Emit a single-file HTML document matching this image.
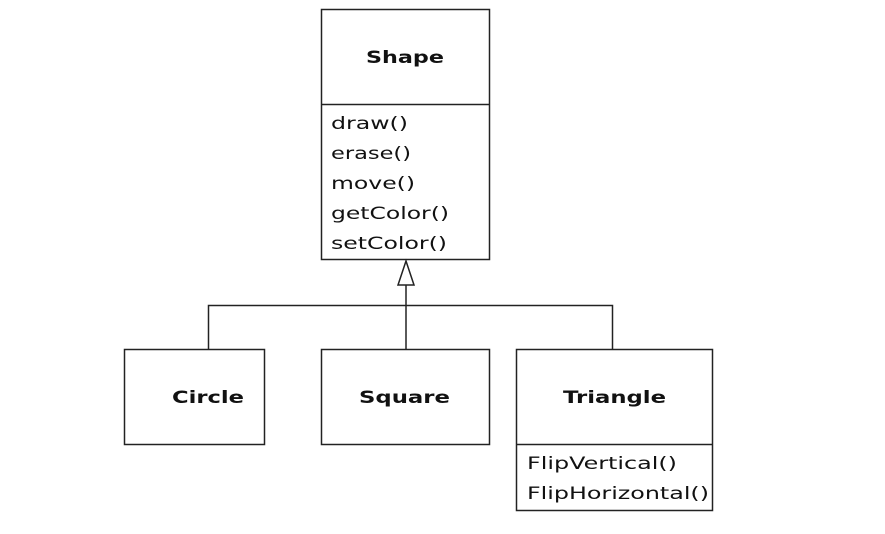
<!DOCTYPE html>
<html><head><style>html,body{margin:0;padding:0;background:#fff;}svg{display:block}</style></head>
<body>
<svg width="885" height="534" xmlns="http://www.w3.org/2000/svg" font-family="'DejaVu Sans','Liberation Sans',sans-serif">
<g fill="none" stroke="#222" stroke-width="1.5">
<rect x="321.5" y="9.5" width="168" height="250"/>
<line x1="321" y1="104.5" x2="490" y2="104.5"/>
<rect x="124.5" y="349.5" width="140" height="95"/>
<rect x="321.5" y="349.5" width="168" height="95"/>
<rect x="516.5" y="349.5" width="196" height="161"/>
<line x1="516" y1="444.5" x2="712" y2="444.5"/>
<polyline points="208.5,349 208.5,305.5 612.5,305.5 612.5,349"/>
<line x1="406" y1="285" x2="406" y2="349"/>
<polygon points="406,261 398,285 414,285" fill="#fff"/>
</g>
<g fill="#111" font-size="17">
<text x="331" y="129" textLength="77" lengthAdjust="spacingAndGlyphs">draw()</text>
<text x="331" y="159" textLength="80" lengthAdjust="spacingAndGlyphs">erase()</text>
<text x="331" y="189" textLength="84" lengthAdjust="spacingAndGlyphs">move()</text>
<text x="331" y="219" textLength="118" lengthAdjust="spacingAndGlyphs">getColor()</text>
<text x="331" y="249" textLength="116" lengthAdjust="spacingAndGlyphs">setColor()</text>
<text x="527" y="469" textLength="150" lengthAdjust="spacingAndGlyphs">FlipVertical()</text>
<text x="527" y="499" textLength="182" lengthAdjust="spacingAndGlyphs">FlipHorizontal()</text>
</g>
<g fill="#111" font-size="17" font-weight="bold">
<text x="366" y="63" textLength="78" lengthAdjust="spacingAndGlyphs">Shape</text>
<text x="172" y="403" textLength="72" lengthAdjust="spacingAndGlyphs">Circle</text>
<text x="359" y="403" textLength="91" lengthAdjust="spacingAndGlyphs">Square</text>
<text x="563" y="403" textLength="103" lengthAdjust="spacingAndGlyphs">Triangle</text>
</g>
</svg>
</body></html>
